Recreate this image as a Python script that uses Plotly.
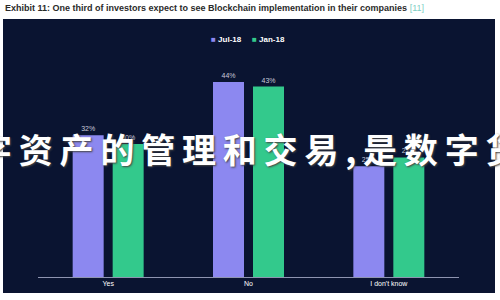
import plotly.graph_objects as go

categories = ["Yes", "No", "I don't know"]
jul18 = [32, 44, 25]
jan18 = [30, 43, 27]
series_names = ["Jul-18", "Jan-18"]
title_text = "Exhibit 11: One third of investors expect to see Blockchain implementation in their companies"
ref_text = "[11]"
watermark_left = "字资产的管理和交易"
watermark_right = "是数字货币"

W, H = 500, 300


def px(x):
    return x / W


def py(y):
    return (H - y) / H


PURPLE = "#8c88f0"
GREEN = "#33c98c"
PANEL = "#0a1431"

THIN = "\u2009"
watermark = THIN.join(watermark_left) + THIN + "," + THIN + THIN.join(watermark_right)

fig = go.Figure()
for name, vals, col in [(series_names[0], jul18, PURPLE), (series_names[1], jan18, GREEN)]:
    fig.add_trace(go.Bar(
        x=categories, y=vals, name=name,
        marker=dict(color=col, line=dict(width=0)),
        text=[f"{v}%" for v in vals], textposition="outside",
        textfont=dict(size=7, color="#c8cadb", family="Liberation Sans"),
        cliponaxis=False,
    ))

annotations = [
    dict(xref="paper", yref="paper", x=px(3), y=py(8), xanchor="left", yanchor="middle",
         showarrow=False,
         text=f"<b>{title_text}</b> <span style='color:#7fcfc4'>{ref_text}</span>",
         font=dict(family="Liberation Sans", size=9, color="#2a2a2a")),
    dict(xref="paper", yref="paper", x=px(209), y=py(39), xanchor="left", yanchor="middle",
         showarrow=False,
         text=f"<span style='color:{PURPLE}'>■</span> <b>{series_names[0]}</b>",
         font=dict(family="Liberation Sans", size=8, color="white")),
    dict(xref="paper", yref="paper", x=px(250), y=py(39), xanchor="left", yanchor="middle",
         showarrow=False,
         text=f"<span style='color:{GREEN}'>■</span> <b>{series_names[1]}</b>",
         font=dict(family="Liberation Sans", size=8, color="white")),
    dict(xref="paper", yref="paper", x=px(-24), y=py(148), xanchor="left", yanchor="middle",
         showarrow=False, text=watermark,
         font=dict(family="Noto Sans CJK SC", size=34, color="white", weight="bold",
                   shadow="1px 1px 2px #444")),
]

fig.update_layout(
    width=W, height=H,
    margin=dict(l=0, r=0, t=0, b=0),
    paper_bgcolor="white", plot_bgcolor="rgba(0,0,0,0)",
    barmode="group", bargap=0.43, bargroupgap=0.225,
    showlegend=False,
    xaxis=dict(domain=[px(38), px(459)], showline=True, linecolor="#8e94b0", linewidth=1,
               ticks="", tickfont=dict(size=7, color="white", family="Liberation Sans"),
               showgrid=False, zeroline=False, fixedrange=True),
    yaxis=dict(domain=[py(277), py(55.5)], range=[0, 50], visible=False, fixedrange=True),
    shapes=[dict(type="rect", xref="paper", yref="paper", x0=px(3), x1=px(495),
                 y0=py(293), y1=py(19), fillcolor=PANEL, line=dict(width=0), layer="below")],
    annotations=annotations,
)

fig.write_html("out.html")
